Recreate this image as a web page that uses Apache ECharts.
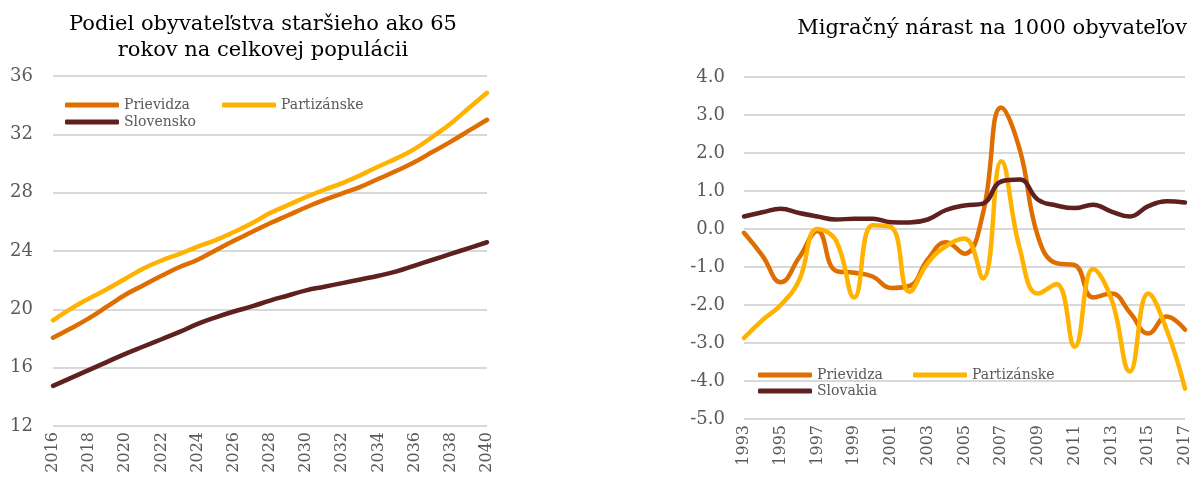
<!DOCTYPE html>
<html>
<head>
<meta charset="utf-8">
<script src="https://cdn.jsdelivr.net/npm/echarts@6/dist/echarts.min.js"></script>
<style>
	html, body { margin: 0; padding: 0; background: #fff; }
	#chart { width: 1195px; height: 479px; }
</style>
</head>
<body>
<div id="chart"></div>
<script>
// left chart: share of population aged 65+
const yearsProj = ['2016', '2017', '2018', '2019', '2020', '2021', '2022', '2023', '2024', '2025', '2026', '2027', '2028',
	'2029', '2030', '2031', '2032', '2033', '2034', '2035', '2036', '2037', '2038', '2039', '2040']
const prievidzaOld = [18.05, 18.7, 19.4, 20.2, 21.0, 21.65, 22.3, 22.9, 23.4, 24.05, 24.7, 25.3, 25.9,
	26.45, 27.0, 27.5, 27.95, 28.4, 28.95, 29.5, 30.1, 30.8, 31.5, 32.25, 33.0]
const partizanskeOld = [19.25, 20.05, 20.75, 21.4, 22.1, 22.8, 23.35, 23.8, 24.3, 24.75, 25.3, 25.9, 26.6,
	27.15, 27.7, 28.2, 28.65, 29.2, 29.8, 30.35, 31.0, 31.85, 32.75, 33.8, 34.85]
const slovenskoOld = [14.75, 15.3, 15.85, 16.4, 16.95, 17.45, 17.95, 18.45, 19.0, 19.45, 19.85, 20.2, 20.6,
	20.95, 21.3, 21.55, 21.8, 22.05, 22.3, 22.6, 23.0, 23.4, 23.8, 24.2, 24.6]

// right chart: net migration per 1000 inhabitants
const yearsMig = ['1993', '1994', '1995', '1996', '1997', '1998', '1999', '2000', '2001', '2002', '2003', '2004', '2005',
	'2006', '2007', '2008', '2009', '2010', '2011', '2012', '2013', '2014', '2015', '2016', '2017']
const prievidzaMig = [-0.1, -0.7, -1.4, -0.75, -0.05, -1.1, -1.15, -1.25, -1.55, -1.5, -0.8, -0.35, -0.65,
	0.4, 3.2, 2.1, -0.2, -0.9, -0.95, -1.8, -1.7, -2.2, -2.75, -2.3, -2.65]
const partizanskeMig = [-2.87, -2.4, -2.0, -1.35, 0.0, -0.3, -1.8, 0.1, 0.05, -1.65, -0.9, -0.45, -0.25,
	-1.3, 1.78, -0.5, -1.7, -1.45, -3.1, -1.05, -1.85, -3.75, -1.7, -2.65, -4.2]
const slovakiaMig = [0.33, 0.44, 0.53, 0.42, 0.33, 0.25, 0.27, 0.27, 0.18, 0.17, 0.25, 0.5, 0.62,
	0.67, 1.25, 1.3, 0.77, 0.62, 0.55, 0.64, 0.46, 0.33, 0.6, 0.73, 0.7]

const colorPrievidza = '#DE6E00'
const colorPartizanske = '#FFB300'
const colorSlovensko = '#5E2120'
const fontSerif = '"DejaVu Serif", Georgia, serif'
const labelGray = '#595959'
const gridGray = '#D9D9D9'

const chart = echarts.init(document.getElementById('chart'))

const lineSeries = (name, data, color, idx) => ({
	name: name,
	type: 'line',
	data: data,
	xAxisIndex: idx,
	yAxisIndex: idx,
	smooth: 0.45,
	symbol: 'none',
	lineStyle: { color: color, width: 4.5, cap: 'round', join: 'round' },
	itemStyle: { color: color }
})

const legendAt = (name, left, top) => ({
	data: [name],
	left: left,
	top: top,
	icon: 'roundRect',
	itemWidth: 54,
	itemHeight: 5,
	itemGap: 5,
	padding: 0,
	textStyle: { fontFamily: fontSerif, fontSize: 14, color: labelGray }
})

const xAxisBase = (data, idx) => ({
	type: 'category',
	gridIndex: idx,
	data: data,
	boundaryGap: false,
	axisLine: { show: false },
	axisTick: { show: false },
	axisLabel: {
		interval: 1,
		rotate: 90,
		margin: 6,
		fontFamily: fontSerif,
		fontSize: 16,
		color: labelGray
	}
})

const option = {
	animation: false,
	title: [
		{
			text: 'Podiel obyvateľstva staršieho ako 65\nrokov na celkovej populácii',
			left: 258,
			top: 7,
			textAlign: 'center',
			textStyle: { fontFamily: fontSerif, fontSize: 21, fontWeight: 'normal', color: '#000', lineHeight: 26 }
		},
		{
			text: 'Migračný nárast na 1000 obyvateľov',
			right: 3,
			top: 13,
			textStyle: { fontFamily: fontSerif, fontSize: 21, fontWeight: 'normal', color: '#000' }
		}
	],
	legend: [
		legendAt('Prievidza', 65, 98),
		legendAt('Partizánske', 222, 98),
		legendAt('Slovensko', 65, 115),
		legendAt('Prievidza ', 758, 368),
		legendAt('Partizánske ', 913, 368),
		legendAt('Slovakia', 758, 384)
	],
	grid: [
		{ left: 53, right: 708, top: 76, bottom: 53 },
		{ left: 744, right: 10, top: 77, bottom: 60 }
	],
	xAxis: [xAxisBase(yearsProj, 0), xAxisBase(yearsMig, 1)],
	yAxis: [
		{
			type: 'value',
			gridIndex: 0,
			min: 12,
			max: 36,
			interval: 4,
			axisLine: { show: false },
			axisTick: { show: false },
			axisLabel: { margin: 20, fontFamily: fontSerif, fontSize: 18, color: labelGray },
			splitLine: { lineStyle: { color: gridGray, width: 2 } }
		},
		{
			type: 'value',
			gridIndex: 1,
			min: -5,
			max: 4,
			interval: 1,
			axisLine: { show: false },
			axisTick: { show: false },
			axisLabel: {
				margin: 19,
				fontFamily: fontSerif,
				fontSize: 18,
				color: labelGray,
				formatter: v => v.toFixed(1)
			},
			splitLine: { lineStyle: { color: gridGray, width: 2 } }
		}
	],
	series: [
		lineSeries('Prievidza', prievidzaOld, colorPrievidza, 0),
		lineSeries('Partizánske', partizanskeOld, colorPartizanske, 0),
		lineSeries('Slovensko', slovenskoOld, colorSlovensko, 0),
		lineSeries('Prievidza ', prievidzaMig, colorPrievidza, 1),
		lineSeries('Partizánske ', partizanskeMig, colorPartizanske, 1),
		lineSeries('Slovakia', slovakiaMig, colorSlovensko, 1)
	]
}

chart.setOption(option)
</script>
</body>
</html>
